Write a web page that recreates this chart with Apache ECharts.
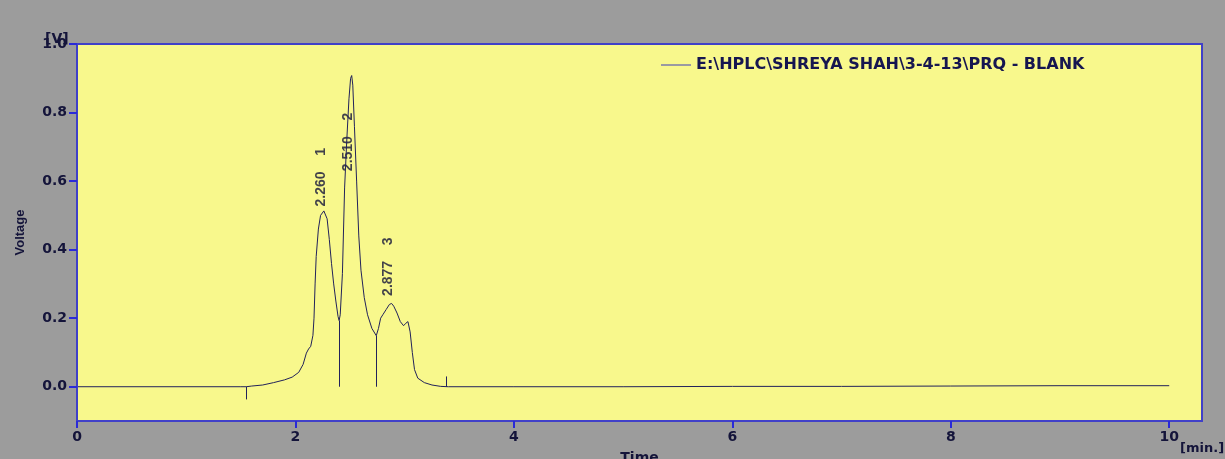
<!DOCTYPE html>
<html>
<head>
<meta charset="utf-8">
<script src="https://cdn.jsdelivr.net/npm/echarts@6/dist/echarts.min.js"></script>
<style>
  html, body { margin: 0; padding: 0; background: #9c9c9c; }
  #chart { width: 1225px; height: 459px; }
</style>
</head>
<body>
<div id="chart"></div>
<script>
// Chromatogram trace: retention time (min) and detector signal (V)
const times = [0, 1.50, 1.55, 1.60, 1.70, 1.80, 1.90, 1.97, 2.03, 2.07, 2.10, 2.12, 2.14, 2.16, 2.17, 2.18,
  2.19, 2.21, 2.23, 2.26, 2.29, 2.31, 2.33, 2.35, 2.37, 2.39, 2.40, 2.41, 2.43, 2.45, 2.47, 2.49,
  2.505, 2.515, 2.525, 2.54, 2.56, 2.58, 2.60, 2.63, 2.66, 2.70, 2.74, 2.76, 2.78, 2.80, 2.83, 2.86,
  2.88, 2.90, 2.93, 2.96, 2.99, 3.01, 3.03, 3.05, 3.07, 3.09, 3.12, 3.18, 3.25, 3.33, 3.40,
  4, 5, 6, 7, 8, 9, 10];
const volts = [0, 0, 0, 0.002, 0.005, 0.012, 0.020, 0.028, 0.042, 0.065, 0.098, 0.110, 0.118, 0.150, 0.200, 0.300,
  0.380, 0.460, 0.500, 0.513, 0.490, 0.430, 0.360, 0.300, 0.250, 0.205, 0.193, 0.210, 0.330, 0.580, 0.720, 0.840,
  0.900, 0.908, 0.880, 0.760, 0.600, 0.440, 0.340, 0.260, 0.210, 0.170, 0.149, 0.170, 0.200, 0.210, 0.225, 0.240,
  0.243, 0.235, 0.215, 0.190, 0.178, 0.185, 0.190, 0.160, 0.100, 0.050, 0.025, 0.012, 0.005, 0.001, 0,
  0, 0, 0.001, 0.001, 0.002, 0.003, 0.003];

// Integrated peaks: retention time, peak number, height where the label starts
const peakTimes = [2.260, 2.510, 2.877];
const peakNumbers = [1, 2, 3];
const peakLabelBase = [0.526, 0.629, 0.265];

// Peak separation drop lines (time, signal at the valley)
const dropTimes = [2.40, 2.74];
const dropHeights = [0.193, 0.149];

// Integration start / end events (time, marker extent in V)
const eventTimes = [1.55, 3.385];
const eventExtents = [-0.037, 0.03];

const xTicks = [0, 2, 4, 6, 8, 10];
const yTicks = [0.0, 0.2, 0.4, 0.6, 0.8, 1.0];

const seriesName = 'E:\\HPLC\\SHREYA SHAH\\3-4-13\\PRQ - BLANK';

const traceData = times.map((t, i) => [t, volts[i]]);
const labelData = peakTimes.map((t, i) => [t, peakLabelBase[i]]);

const markLines = [];
dropTimes.forEach((t, i) => markLines.push([{ coord: [t, 0] }, { coord: [t, dropHeights[i]] }]));
eventTimes.forEach((t, i) => markLines.push([{ coord: [t, 0] }, { coord: [t, eventExtents[i]] }]));

const ink = '#14143a';
const frame = '#4040c8';
const tickBlue = '#2a2ad8';
const wideFont = 'DejaVu Sans';
const narrowFont = 'Liberation Sans';

const chart = echarts.init(document.getElementById('chart'), null, { renderer: 'canvas' });
chart.setOption({
  backgroundColor: '#9c9c9c',
  animation: false,
  grid: {
    left: 77, right: 23, top: 44, bottom: 38,
    containLabel: false, outerBoundsMode: 'none',
    show: true, backgroundColor: '#f8f88c', borderColor: frame, borderWidth: 2
  },
  legend: {
    data: [seriesName],
    left: 656, top: 52,
    itemWidth: 30, itemHeight: 12,
    icon: 'path://M0,5 L30,5 L30,6 L0,6 Z',
    itemStyle: { color: '#3c3cb8' },
    textStyle: { fontFamily: wideFont, fontWeight: 'bold', fontSize: 16, color: '#161650' }
  },
  xAxis: {
    type: 'value', min: 0, max: 10.3,
    name: 'Time', nameLocation: 'middle', nameGap: 30,
    nameTextStyle: { fontFamily: wideFont, fontWeight: 'bold', fontSize: 14, color: ink },
    axisLine: { show: true, onZero: false, lineStyle: { color: frame, width: 2 } },
    axisTick: { show: true, inside: false, customValues: xTicks, length: 7, lineStyle: { color: tickBlue, width: 2 } },
    axisLabel: { customValues: xTicks, margin: 9, fontFamily: wideFont, fontWeight: 'bold', fontSize: 14, color: ink },
    splitLine: { show: false },
    z: 10
  },
  yAxis: {
    type: 'value', min: -0.1, max: 1.0,
    name: 'Voltage', nameLocation: 'middle', nameGap: 50, nameRotate: 90,
    nameTextStyle: { fontFamily: narrowFont, fontWeight: 'bold', fontSize: 13, color: ink },
    axisLine: { show: true, onZero: false, lineStyle: { color: frame, width: 2 } },
    axisTick: { show: true, inside: false, customValues: yTicks, length: 8, lineStyle: { color: tickBlue, width: 2 } },
    axisLabel: {
      customValues: yTicks, margin: 10, fontFamily: wideFont, fontWeight: 'bold', fontSize: 14, color: ink,
      formatter: v => v.toFixed(1)
    },
    splitLine: { show: false },
    z: 10
  },
  graphic: [
    { type: 'text', left: 45, top: 32, style: { text: '[V]', font: 'bold 14px "DejaVu Sans"', fill: ink } },
    { type: 'text', left: 1180, top: 442, style: { text: '[min.]', font: 'bold 13px "DejaVu Sans"', fill: ink } }
  ],
  series: [
    {
      name: seriesName,
      type: 'line',
      data: traceData,
      symbol: 'none',
      lineStyle: { color: '#22225a', width: 1 },
      markLine: {
        silent: true, symbol: 'none', label: { show: false },
        lineStyle: { color: '#22225a', width: 1, type: 'solid' },
        data: markLines
      }
    },
    {
      name: 'peaks',
      type: 'scatter',
      data: labelData,
      symbolSize: 0,
      silent: true,
      label: {
        show: true,
        position: [-3, 0],
        rotate: 90,
        align: 'left',
        verticalAlign: 'middle',
        fontFamily: narrowFont, fontWeight: 'bold', fontSize: 14, color: ink,
        formatter: p => peakTimes[p.dataIndex].toFixed(3) + '    ' + peakNumbers[p.dataIndex]
      }
    }
  ]
});
</script>
</body>
</html>
